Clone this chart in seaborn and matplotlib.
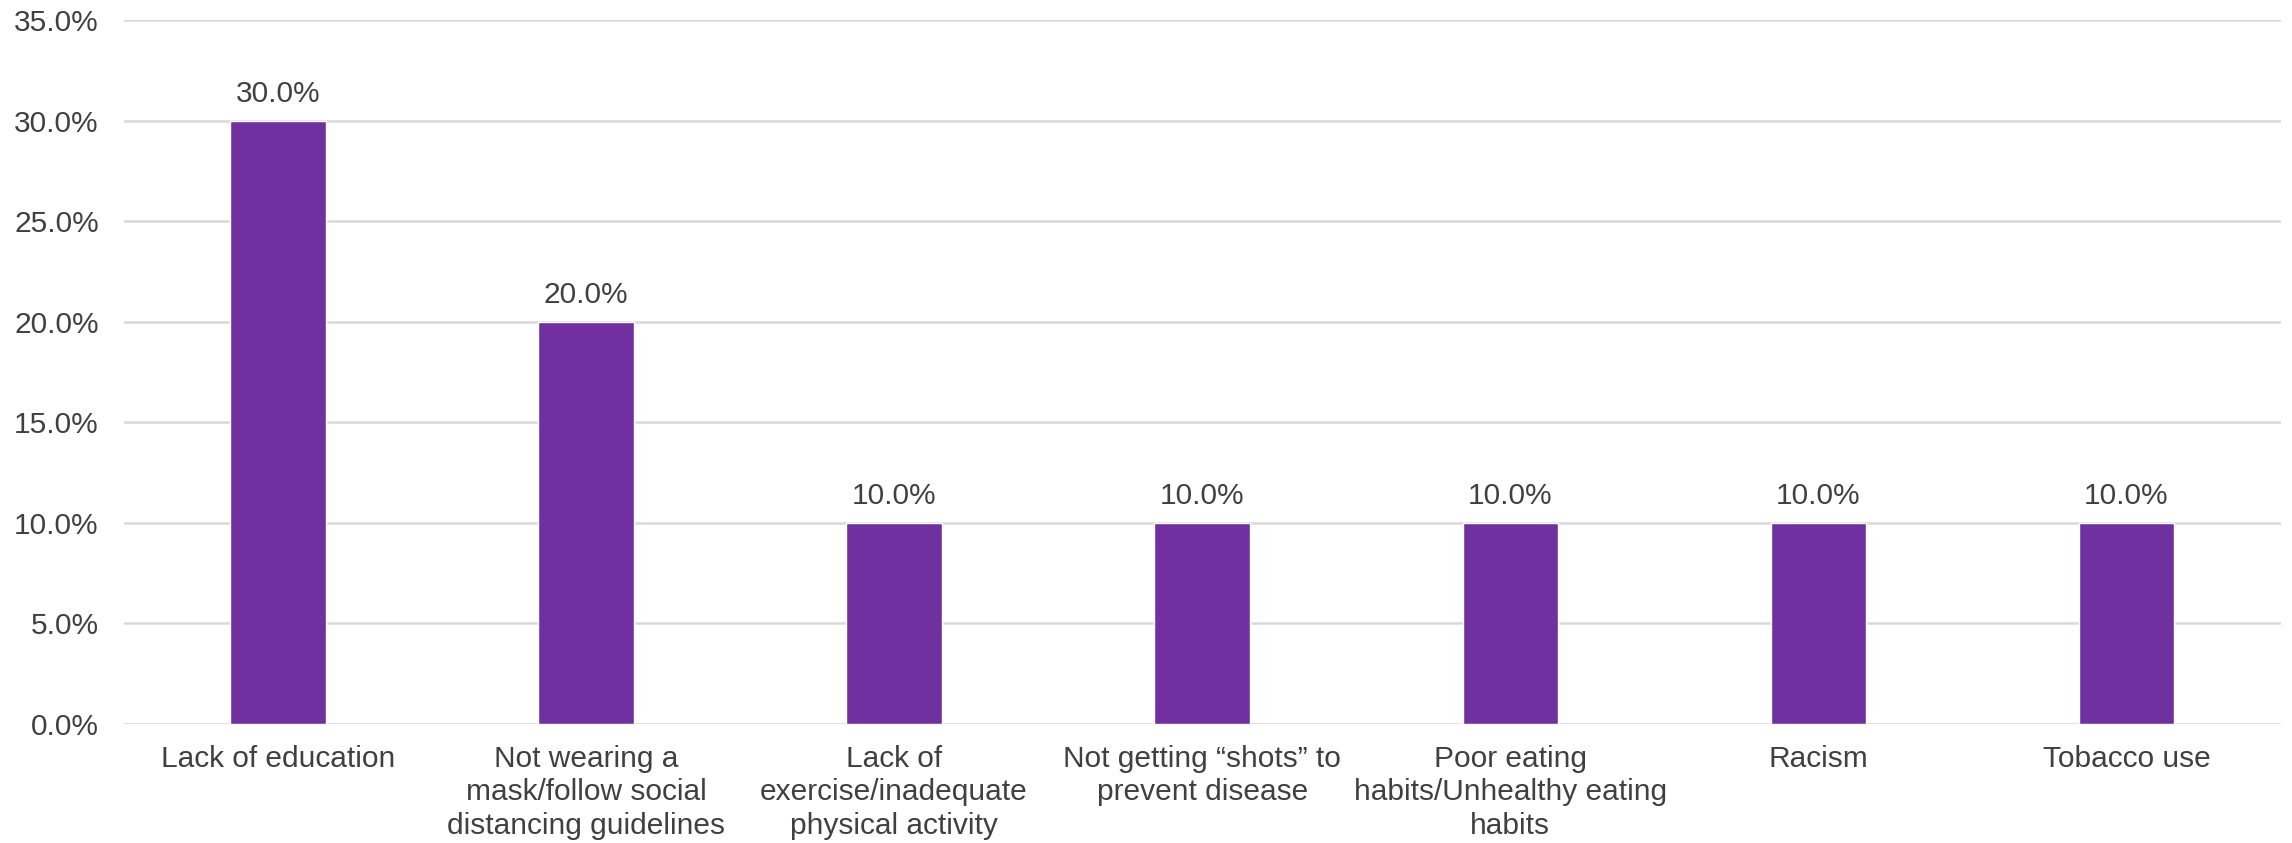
import matplotlib
matplotlib.use("Agg")
import matplotlib.pyplot as plt
import seaborn as sns
import pandas as pd
from matplotlib.ticker import PercentFormatter

# data
causes = [
    "Lack of education",
    "Not wearing a\nmask/follow social\ndistancing guidelines",
    "Lack of\nexercise/inadequate\nphysical activity",
    "Not getting \u201cshots\u201d to\nprevent disease",
    "Poor eating\nhabits/Unhealthy eating\nhabits",
    "Racism",
    "Tobacco use",
]
shares = [30.0, 20.0, 10.0, 10.0, 10.0, 10.0, 10.0]
y_ticks = [0, 5, 10, 15, 20, 25, 30, 35]

df = pd.DataFrame({"cause": causes, "share": shares})

sns.set_theme(style="white")
plt.rcParams["font.family"] = ["Liberation Sans", "DejaVu Sans"]
txt = "#404040"
fs = 21.5

fig = plt.figure(figsize=(22.92, 8.43), dpi=100)
ax = fig.add_axes([0.054, 0.1415, 0.941, 0.8345])

sns.barplot(data=df, x="cause", y="share", color="#7030A0", saturation=1,
            width=0.31, ax=ax, zorder=3)

ax.set_ylim(0, 35)
ax.set_xlim(-0.5, len(causes) - 0.5)
ax.set_yticks(y_ticks)
ax.yaxis.set_major_formatter(PercentFormatter(decimals=1))
ax.grid(axis="y", color="#D9D9D9", linewidth=1.8, zorder=0)
ax.set_axisbelow(True)
for s in ax.spines.values():
    s.set_visible(False)
ax.tick_params(axis="y", length=0, pad=18, labelsize=fs, labelcolor=txt)
ax.tick_params(axis="x", length=0, pad=15, labelsize=fs, labelcolor=txt)
for lab in ax.get_xticklabels():
    lab.set_linespacing(1.25)
ax.set_xlabel("")
ax.set_ylabel("")

for p, v in zip(ax.patches, shares):
    ax.annotate(f"{v:.1f}%", (p.get_x() + p.get_width() / 2, p.get_height()),
                xytext=(0, 9), textcoords="offset points",
                ha="center", va="bottom", fontsize=fs, color=txt)

fig.savefig("out.png", dpi=100)
